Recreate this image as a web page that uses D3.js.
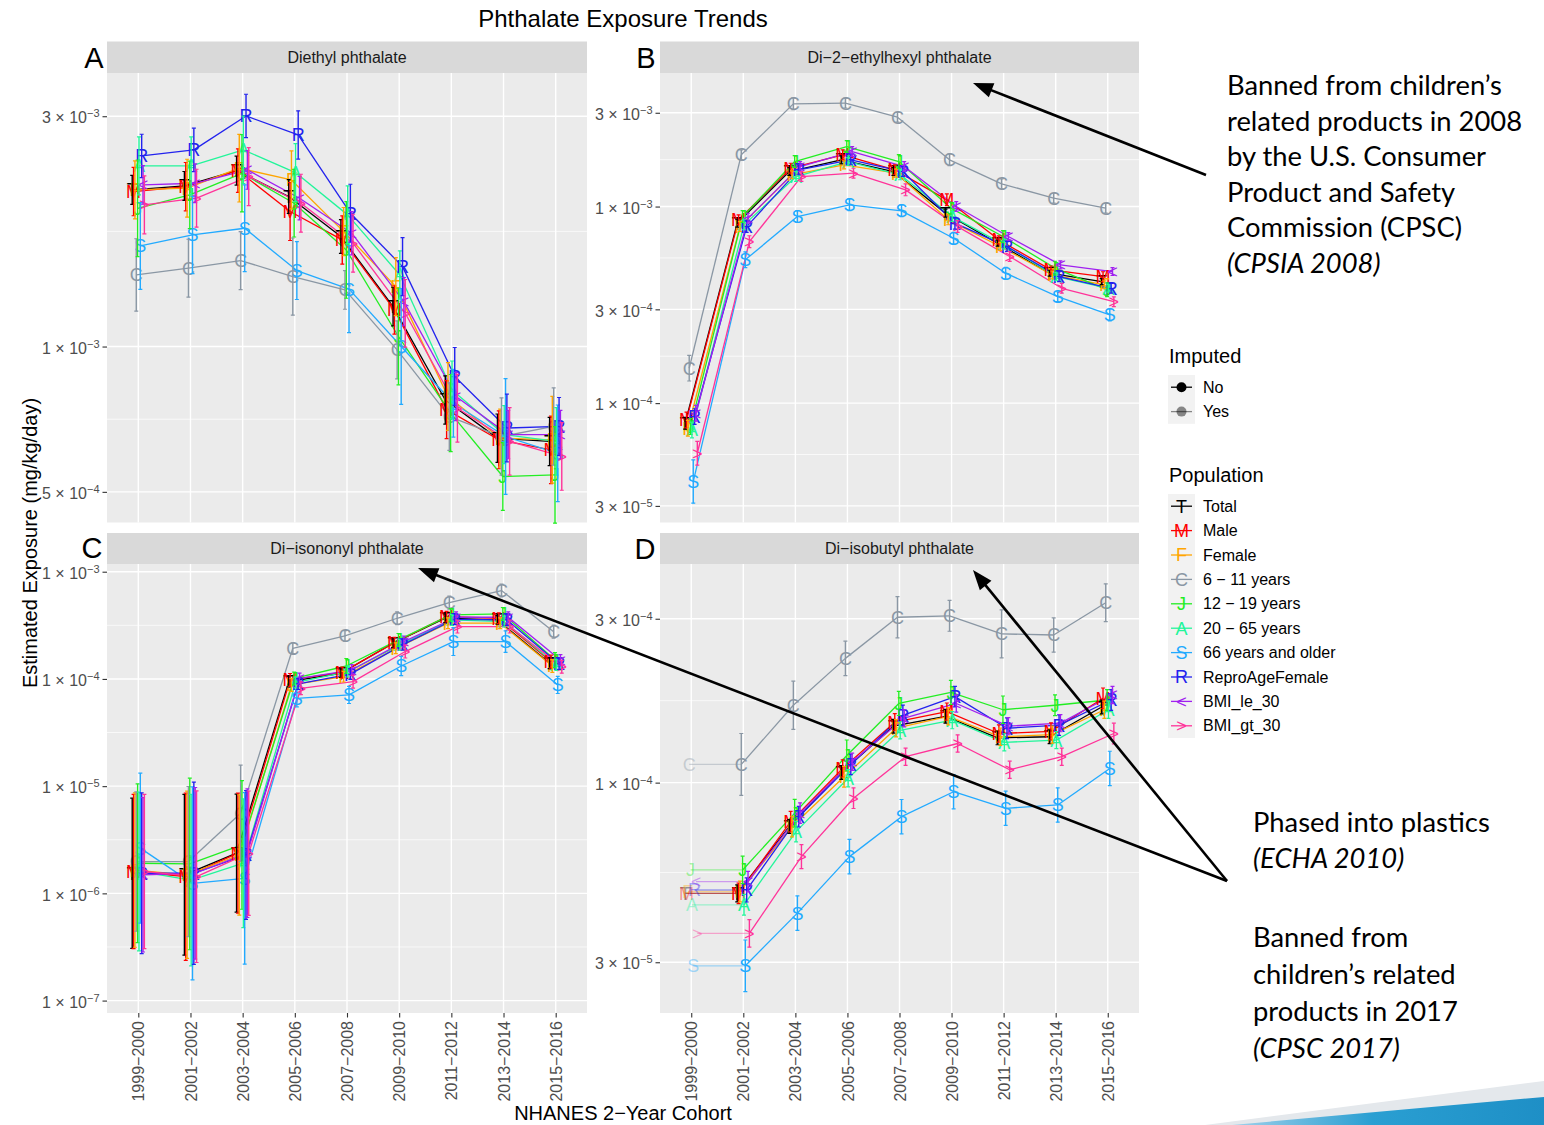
<!DOCTYPE html>
<html>
<head>
<meta charset="utf-8">
<script src="https://cdn.jsdelivr.net/npm/d3@7"></script>
<style>
  body { margin: 0; background: #fff; }
  svg { display: block; }
  text { font-family: "Liberation Sans", Arial, sans-serif; }
</style>
</head>
<body>
<svg id="chart" width="1544" height="1125"></svg>
<script>
// ---- data ----
const cohorts = ["1999-2000", "2001-2002", "2003-2004", "2005-2006", "2007-2008",
                 "2009-2010", "2011-2012", "2013-2014", "2015-2016"];

const popNames  = ["Total", "Male", "Female", "6 \u2212 11 years", "12 \u2212 19 years",
                   "20 \u2212 65 years", "66 years and older", "ReproAgeFemale", "BMI_le_30", "BMI_gt_30"];
const popShapes = ["T", "M", "F", "C", "J", "A", "S", "R", "<", ">"];
const popColors = ["#000000", "#ff0000", "#ffa500", "#8a97a4", "#22ee22",
                   "#22f59a", "#22aaff", "#2222ee", "#a020f0", "#ff3399"];

const panelTags   = ["A", "B", "C", "D"];
const panelTitles = ["Diethyl phthalate", "Di\u22122\u2212ethylhexyl phthalate",
                     "Di\u2212isononyl phthalate", "Di\u2212isobutyl phthalate"];

// rows follow popNames order
const diethylValues = [
  [2.111e-3, 2.151e-3, 2.315e-3, 2.045e-3, 1.690e-3, 1.210e-3, 7.75e-4, 6.46e-4, 6.36e-4],
  [2.094e-3, 2.144e-3, 2.315e-3, 1.904e-3, 1.663e-3, 1.191e-3, 7.40e-4, 6.41e-4, 6.11e-4],
  [2.111e-3, 2.128e-3, 2.341e-3, 2.214e-3, 1.730e-3, 1.331e-3, 7.88e-4, 6.46e-4, 6.41e-4],
  [1.407e-3, 1.453e-3, 1.507e-3, 1.396e-3, 1.310e-3, 9.84e-4, 7.16e-4, 6.51e-4, 6.83e-4],
  [1.934e-3, 2.061e-3, 2.285e-3, 1.981e-3, 1.585e-3, 1.049e-3, 7.28e-4, 5.38e-4, 5.42e-4],
  [2.367e-3, 2.367e-3, 2.555e-3, 2.293e-3, 1.874e-3, 1.407e-3, 8.13e-4, 6.57e-4, 6.36e-4],
  [1.616e-3, 1.703e-3, 1.758e-3, 1.437e-3, 1.315e-3, 1.000e-3, 7.63e-4, 6.51e-4, 6.01e-4],
  [2.482e-3, 2.555e-3, 3.004e-3, 2.744e-3, 1.889e-3, 1.464e-3, 8.67e-4, 6.78e-4, 6.83e-4],
  [2.162e-3, 2.179e-3, 2.322e-3, 2.029e-3, 1.717e-3, 1.239e-3, 7.88e-4, 6.57e-4, 6.57e-4],
  [1.965e-3, 2.029e-3, 2.249e-3, 1.981e-3, 1.637e-3, 1.172e-3, 7.45e-4, 6.36e-4, 5.92e-4]
];
const dehpValues = [
  [7.90e-5, 8.23e-4, 1.507e-3, 1.729e-3, 1.507e-3, 9.26e-4, 6.51e-4, 4.58e-4, 4.15e-4],
  [8.21e-5, 8.56e-4, 1.568e-3, 1.833e-3, 1.537e-3, 1.082e-3, 6.77e-4, 4.76e-4, 4.40e-4],
  [7.45e-5, 7.91e-4, 1.450e-3, 1.630e-3, 1.479e-3, 8.56e-4, 6.26e-4, 4.49e-4, 4.00e-4],
  [1.505e-4, 1.833e-3, 3.33e-3, 3.36e-3, 2.85e-3, 1.729e-3, 1.305e-3, 1.103e-3, 9.81e-4],
  [7.60e-5, 8.89e-4, 1.694e-3, 2.02e-3, 1.694e-3, 9.81e-4, 7.04e-4, 4.86e-4, 3.77e-4],
  [7.30e-5, 8.07e-4, 1.421e-3, 1.694e-3, 1.450e-3, 8.89e-4, 6.38e-4, 4.40e-4, 3.84e-4],
  [3.99e-5, 5.36e-4, 8.89e-4, 1.020e-3, 9.51e-4, 6.90e-4, 4.58e-4, 3.48e-4, 2.81e-4],
  [8.54e-5, 7.91e-4, 1.537e-3, 1.729e-3, 1.507e-3, 8.23e-4, 6.26e-4, 4.40e-4, 3.84e-4],
  [8.88e-5, 8.73e-4, 1.598e-3, 1.905e-3, 1.598e-3, 1.000e-3, 7.04e-4, 5.05e-4, 4.67e-4],
  [5.56e-5, 6.63e-4, 1.421e-3, 1.479e-3, 1.216e-3, 7.91e-4, 5.57e-4, 3.84e-4, 3.28e-4]
];
const dinpValues = [
  [1.54e-6, 1.49e-6, 2.37e-6, 9.44e-5, 1.13e-4, 2.15e-4, 3.68e-4, 3.55e-4, 1.40e-4],
  [1.60e-6, 1.43e-6, 2.37e-6, 9.79e-5, 1.15e-4, 2.18e-4, 3.81e-4, 3.68e-4, 1.45e-4],
  [1.65e-6, 1.49e-6, 2.28e-6, 8.79e-5, 1.05e-4, 1.93e-4, 3.31e-4, 3.31e-4, 1.32e-4],
  [1.98e-6, 1.98e-6, 5.58e-6, 1.93e-4, 2.52e-4, 3.68e-4, 5.15e-4, 6.67e-4, 2.76e-4],
  [1.91e-6, 1.88e-6, 2.83e-6, 1.01e-4, 1.32e-4, 2.31e-4, 3.95e-4, 4.04e-4, 1.50e-4],
  [1.60e-6, 1.33e-6, 1.91e-6, 9.24e-5, 1.17e-4, 2.08e-4, 3.55e-4, 3.43e-4, 1.35e-4],
  [2.64e-6, 1.24e-6, 1.38e-6, 6.60e-5, 7.09e-5, 1.32e-4, 2.23e-4, 2.23e-4, 8.79e-5],
  [1.54e-6, 1.54e-6, 2.28e-6, 8.98e-5, 1.11e-4, 2.08e-4, 3.60e-4, 3.55e-4, 1.38e-4],
  [1.49e-6, 1.54e-6, 2.37e-6, 1.01e-4, 1.21e-4, 2.23e-4, 3.76e-4, 3.76e-4, 1.50e-4],
  [1.60e-6, 1.43e-6, 2.37e-6, 8.18e-5, 9.44e-5, 1.80e-4, 3.08e-4, 3.08e-4, 1.30e-4]
];
const dibpValues = [
  [4.76e-5, 4.76e-5, 7.45e-5, 1.07e-4, 1.46e-4, 1.56e-4, 1.35e-4, 1.36e-4, 1.66e-4],
  [4.76e-5, 4.76e-5, 7.70e-5, 1.10e-4, 1.50e-4, 1.61e-4, 1.39e-4, 1.41e-4, 1.76e-4],
  [4.82e-5, 4.82e-5, 7.45e-5, 1.04e-4, 1.44e-4, 1.56e-4, 1.36e-4, 1.38e-4, 1.63e-4],
  [1.13e-4, 1.13e-4, 1.68e-4, 2.30e-4, 3.03e-4, 3.06e-4, 2.71e-4, 2.69e-4, 3.34e-4],
  [5.57e-5, 5.57e-5, 8.15e-5, 1.20e-4, 1.70e-4, 1.83e-4, 1.63e-4, 1.68e-4, 1.74e-4],
  [4.41e-5, 4.41e-5, 7.20e-5, 1.03e-4, 1.42e-4, 1.52e-4, 1.31e-4, 1.33e-4, 1.63e-4],
  [2.93e-5, 2.93e-5, 4.17e-5, 6.09e-5, 7.96e-5, 9.41e-5, 8.42e-5, 8.61e-5, 1.10e-4],
  [4.87e-5, 4.87e-5, 7.96e-5, 1.13e-4, 1.57e-4, 1.78e-4, 1.44e-4, 1.47e-4, 1.74e-4],
  [5.15e-5, 5.15e-5, 8.15e-5, 1.15e-4, 1.54e-4, 1.70e-4, 1.46e-4, 1.49e-4, 1.80e-4],
  [3.64e-5, 3.64e-5, 6.09e-5, 9.01e-5, 1.19e-4, 1.30e-4, 1.09e-4, 1.19e-4, 1.39e-4]
];

// error bar half-widths, log10 units
const diethylErr = [
  [0.03, 0.03, 0.03, 0.035, 0.035, 0.04, 0.05, 0.05, 0.05],
  [0.05, 0.05, 0.045, 0.06, 0.05, 0.05, 0.06, 0.06, 0.07],
  [0.06, 0.06, 0.07, 0.06, 0.05, 0.06, 0.07, 0.06, 0.09],
  [0.075, 0.06, 0.06, 0.08, 0.04, 0.06, 0.07, 0.08, 0.08],
  [0.10, 0.07, 0.08, 0.07, 0.10, 0.10, 0.08, 0.07, 0.10],
  [0.06, 0.06, 0.07, 0.06, 0.06, 0.05, 0.06, 0.06, 0.07],
  [0.09, 0.08, 0.09, 0.06, 0.09, 0.12, 0.07, 0.12, 0.10],
  [0.045, 0.045, 0.045, 0.05, 0.06, 0.06, 0.06, 0.07, 0.06],
  [0.04, 0.04, 0.04, 0.045, 0.045, 0.05, 0.05, 0.05, 0.05],
  [0.06, 0.06, 0.06, 0.06, 0.06, 0.07, 0.07, 0.07, 0.07]
];
const dehpErr = [
  [0.03, 0.02, 0.02, 0.02, 0.02, 0.02, 0.015, 0.015, 0.015],
  [0.04, 0.025, 0.025, 0.025, 0.025, 0.03, 0.02, 0.02, 0.025],
  [0.04, 0.025, 0.02, 0.02, 0.02, 0.025, 0.02, 0.02, 0.02],
  [0.065, 0.025, 0.03, 0.025, 0.025, 0.03, 0.025, 0.025, 0.025],
  [0.04, 0.03, 0.03, 0.03, 0.035, 0.03, 0.03, 0.035, 0.035],
  [0.04, 0.025, 0.025, 0.02, 0.025, 0.025, 0.02, 0.02, 0.02],
  [0.11, 0.04, 0.03, 0.03, 0.03, 0.03, 0.03, 0.025, 0.03],
  [0.04, 0.03, 0.025, 0.025, 0.025, 0.03, 0.025, 0.025, 0.025],
  [0.04, 0.025, 0.025, 0.025, 0.025, 0.025, 0.02, 0.02, 0.02],
  [0.06, 0.03, 0.025, 0.025, 0.03, 0.03, 0.025, 0.025, 0.025]
];
const dinpErr = [
  [0.70, 0.75, 0.55, 0.05, 0.04, 0.04, 0.04, 0.04, 0.05],
  [0.72, 0.78, 0.56, 0.06, 0.05, 0.05, 0.05, 0.05, 0.06],
  [0.72, 0.78, 0.56, 0.06, 0.05, 0.05, 0.05, 0.05, 0.06],
  [0.65, 0.70, 0.45, 0.05, 0.05, 0.06, 0.06, 0.06, 0.06],
  [0.74, 0.80, 0.60, 0.06, 0.07, 0.06, 0.06, 0.06, 0.07],
  [0.74, 0.80, 0.60, 0.05, 0.05, 0.05, 0.05, 0.05, 0.05],
  [0.70, 0.90, 0.80, 0.08, 0.08, 0.09, 0.13, 0.10, 0.08],
  [0.75, 0.85, 0.60, 0.05, 0.05, 0.05, 0.05, 0.05, 0.05],
  [0.72, 0.80, 0.60, 0.05, 0.05, 0.05, 0.05, 0.05, 0.05],
  [0.72, 0.80, 0.58, 0.06, 0.06, 0.06, 0.06, 0.06, 0.06]
];
const dibpErr = [
  [0, 0.025, 0.02, 0.02, 0.02, 0.02, 0.02, 0.02, 0.02],
  [0, 0.03, 0.03, 0.025, 0.025, 0.025, 0.025, 0.025, 0.03],
  [0, 0.03, 0.03, 0.03, 0.025, 0.025, 0.025, 0.025, 0.025],
  [0, 0.09, 0.07, 0.05, 0.06, 0.045, 0.07, 0.05, 0.055],
  [0, 0.04, 0.04, 0.045, 0.035, 0.035, 0.04, 0.03, 0.03],
  [0, 0.03, 0.03, 0.025, 0.025, 0.025, 0.025, 0.025, 0.025],
  [0, 0.075, 0.05, 0.05, 0.05, 0.05, 0.05, 0.05, 0.05],
  [0, 0.035, 0.03, 0.03, 0.03, 0.03, 0.03, 0.03, 0.03],
  [0, 0.03, 0.03, 0.025, 0.025, 0.025, 0.025, 0.025, 0.025],
  [0, 0.04, 0.035, 0.03, 0.025, 0.025, 0.025, 0.025, 0.03]
];

// imputed cohorts per panel (1 = Yes)
const diethylImputed = [0, 0, 0, 0, 0, 0, 0, 0, 0];
const dehpImputed    = [0, 0, 0, 0, 0, 0, 0, 0, 0];
const dinpImputed    = [0, 0, 0, 0, 0, 0, 0, 0, 0];
const dibpImputed    = [1, 0, 0, 0, 0, 0, 0, 0, 0];

// y axis breaks and limits
const diethylTicks = [5e-4, 1e-3, 3e-3];
const dehpTicks    = [3e-5, 1e-4, 3e-4, 1e-3, 3e-3];
const dinpTicks    = [1e-7, 1e-6, 1e-5, 1e-4, 1e-3];
const dibpTicks    = [3e-5, 1e-4, 3e-4];
const diethylDomain = [4.32e-4, 3.687e-3];
const dehpDomain    = [2.47e-5, 4.78e-3];
const dinpDomain    = [7.66e-8, 1.18e-3];
const dibpDomain    = [2.135e-5, 4.33e-4];

const annotation1 = ["Banned from children\u2019s", "related products in 2008", "by the U.S. Consumer",
                     "Product and Safety", "Commission (CPSC)", "(CPSIA 2008)"];
const annotation2 = ["Phased into plastics", "(ECHA 2010)"];
const annotation3 = ["Banned from", "children\u2019s related", "products in 2017", "(CPSC 2017)"];

// ---- drawing ----
const svg = d3.select("#chart");
const minus = s => s.replace(/-/g, "\u2212");

const panels = [
  { values: diethylValues, err: diethylErr, imputed: diethylImputed, ticks: diethylTicks, domain: diethylDomain,
    x0: 107, x1: 587, y0: 73, y1: 522.5, sy0: 41.5, tagX: 94, tagY: 68, bottom: false },
  { values: dehpValues, err: dehpErr, imputed: dehpImputed, ticks: dehpTicks, domain: dehpDomain,
    x0: 660, x1: 1139, y0: 73, y1: 522.5, sy0: 41.5, tagX: 646, tagY: 68, bottom: false },
  { values: dinpValues, err: dinpErr, imputed: dinpImputed, ticks: dinpTicks, domain: dinpDomain,
    x0: 107, x1: 587, y0: 564, y1: 1013, sy0: 533, tagX: 92, tagY: 558, bottom: true },
  { values: dibpValues, err: dibpErr, imputed: dibpImputed, ticks: dibpTicks, domain: dibpDomain,
    x0: 660, x1: 1139, y0: 564, y1: 1013, sy0: 533, tagX: 645, tagY: 559, bottom: true }
];

const IMP_ALPHA = 0.4;
const dodge = i => (i - (popNames.length - 1) / 2) * 1.35;

function tickLabel(sel, v) {
  const e = Math.floor(Math.log10(v) + 1e-9);
  const m = Math.round(v / Math.pow(10, e));
  sel.text(null);
  sel.append("tspan").text(m + " \u00d7 10");
  sel.append("tspan").attr("dy", -6).attr("font-size", 11).text("\u2212" + Math.abs(e));
}

function drawPanel(p, pi) {
  const g = svg.append("g");
  const x = d3.scalePoint().domain(cohorts).range([p.x0, p.x1]).padding(0.6);
  const y = d3.scaleLog().domain(p.domain).range([p.y1, p.y0]);

  g.append("rect")
    .attr("x", p.x0).attr("y", p.y0)
    .attr("width", p.x1 - p.x0).attr("height", p.y1 - p.y0)
    .attr("fill", "#ebebeb");

  const minors = d3.pairs(p.ticks).map(([a, b]) => Math.sqrt(a * b));
  g.selectAll(".minor").data(minors).join("line")
    .attr("x1", p.x0).attr("x2", p.x1)
    .attr("y1", d => y(d)).attr("y2", d => y(d))
    .attr("stroke", "#fff").attr("stroke-width", 0.7);
  g.selectAll(".major").data(p.ticks).join("line")
    .attr("x1", p.x0).attr("x2", p.x1)
    .attr("y1", d => y(d)).attr("y2", d => y(d))
    .attr("stroke", "#fff").attr("stroke-width", 1.4);
  g.selectAll(".vgrid").data(cohorts).join("line")
    .attr("x1", d => x(d)).attr("x2", d => x(d))
    .attr("y1", p.y0).attr("y2", p.y1)
    .attr("stroke", "#fff").attr("stroke-width", 1.4);

  // strip
  g.append("rect")
    .attr("x", p.x0).attr("y", p.sy0)
    .attr("width", p.x1 - p.x0).attr("height", p.y0 - p.sy0)
    .attr("fill", "#d9d9d9");
  g.append("text")
    .attr("x", (p.x0 + p.x1) / 2).attr("y", (p.sy0 + p.y0) / 2 + 5.5)
    .attr("text-anchor", "middle").attr("font-size", 16).attr("fill", "#1a1a1a")
    .text(panelTitles[pi]);
  svg.append("text")
    .attr("x", p.tagX).attr("y", p.tagY)
    .attr("text-anchor", "middle").attr("font-size", 29).attr("fill", "#000")
    .text(panelTags[pi]);

  // y axis
  const yAxis = g.append("g")
    .attr("transform", `translate(${p.x0},0)`)
    .call(d3.axisLeft(y).tickValues(p.ticks).tickSize(4.5).tickPadding(3));
  yAxis.select(".domain").remove();
  yAxis.selectAll(".tick line").attr("stroke", "#333").attr("stroke-width", 1.1);
  yAxis.selectAll(".tick text")
    .attr("font-size", 16).attr("fill", "#4d4d4d")
    .attr("dy", "0.42em")
    .each(function(d) { tickLabel(d3.select(this), d); });

  if (p.bottom) {
    const xAxis = g.append("g")
      .attr("transform", `translate(0,${p.y1})`)
      .call(d3.axisBottom(x).tickSize(4.5).tickFormat(minus));
    xAxis.select(".domain").remove();
    xAxis.selectAll(".tick line").attr("stroke", "#333").attr("stroke-width", 1.1);
    xAxis.selectAll(".tick text")
      .attr("font-size", 16).attr("fill", "#4d4d4d")
      .attr("transform", "rotate(-90)")
      .attr("x", -8).attr("y", 0).attr("dy", "0.35em")
      .attr("text-anchor", "end");
  }

  const series = p.values.map((vals, si) => vals.map((v, ci) => {
    const e = p.err[si][ci];
    return {
      si, ci,
      x: x(cohorts[ci]) + dodge(si),
      y: y(v),
      hi: y(v * Math.pow(10, e)),
      lo: y(v / Math.pow(10, e)),
      imp: p.imputed[ci] === 1
    };
  }));

  const lines = g.append("g");
  series.forEach(pts => {
    d3.pairs(pts).forEach(([a, b]) => {
      lines.append("line")
        .attr("x1", a.x).attr("y1", a.y).attr("x2", b.x).attr("y2", b.y)
        .attr("stroke", popColors[a.si]).attr("stroke-width", 1.3)
        .attr("stroke-opacity", a.imp ? IMP_ALPHA : 1);
    });
  });

  const shapes = g.append("g");
  series.forEach(pts => {
    shapes.selectAll(null).data(pts).join("text")
      .attr("x", d => d.x).attr("y", d => d.y)
      .attr("dy", "0.36em")
      .attr("text-anchor", "middle")
      .attr("font-size", 18)
      .attr("fill", d => popColors[d.si])
      .attr("fill-opacity", d => d.imp ? IMP_ALPHA : 1)
      .text(d => popShapes[d.si]);
  });

  const bars = g.append("g");
  series.forEach(pts => {
    const bp = pts.filter(d => !d.imp && d.lo - d.hi > 0.5);
    const col = popColors[pts[0].si];
    bars.selectAll(null).data(bp).join("line")
      .attr("x1", d => d.x).attr("x2", d => d.x)
      .attr("y1", d => d.hi).attr("y2", d => d.lo)
      .attr("stroke", col).attr("stroke-width", 1.4);
    bars.selectAll(null).data(bp).join("path")
      .attr("d", d => `M${d.x - 2},${d.hi}H${d.x + 2}M${d.x - 2},${d.lo}H${d.x + 2}`)
      .attr("stroke", col).attr("stroke-width", 1.2).attr("fill", "none");
  });
}

panels.forEach(drawPanel);

// titles
svg.append("text").attr("x", 623).attr("y", 27).attr("text-anchor", "middle")
  .attr("font-size", 24).text("Phthalate Exposure Trends");
svg.append("text").attr("x", 623).attr("y", 1120).attr("text-anchor", "middle")
  .attr("font-size", 20).text("NHANES 2\u2212Year Cohort");
svg.append("text").attr("transform", "translate(37,543) rotate(-90)").attr("text-anchor", "middle")
  .attr("font-size", 20).text("Estimated Exposure (mg/kg/day)");

// legend
const leg = svg.append("g");
const keyX = 1168, keyW = 27, keyH = 24.4;
leg.append("text").attr("x", 1169).attr("y", 363).attr("font-size", 20).text("Imputed");
leg.append("rect").attr("x", keyX).attr("y", 375).attr("width", keyW).attr("height", keyH * 2).attr("fill", "#f2f2f2");
["No", "Yes"].forEach((lab, i) => {
  const cy = 375 + keyH * (i + 0.5);
  const op = i === 0 ? 1 : 0.45;
  leg.append("line").attr("x1", keyX + 3).attr("x2", keyX + keyW - 3).attr("y1", cy).attr("y2", cy)
    .attr("stroke", "#000").attr("stroke-width", 1.3).attr("stroke-opacity", op);
  leg.append("circle").attr("cx", keyX + keyW / 2).attr("cy", cy).attr("r", 5).attr("fill", "#000").attr("fill-opacity", op);
  leg.append("text").attr("x", 1203).attr("y", cy + 5.5).attr("font-size", 16).text(lab);
});

leg.append("text").attr("x", 1169).attr("y", 482).attr("font-size", 20).text("Population");
const popTop = 494;
leg.append("rect").attr("x", keyX).attr("y", popTop).attr("width", keyW).attr("height", keyH * popNames.length).attr("fill", "#f2f2f2");
popNames.forEach((lab, i) => {
  const cy = popTop + keyH * (i + 0.5);
  leg.append("line").attr("x1", keyX + 3).attr("x2", keyX + keyW - 3).attr("y1", cy).attr("y2", cy)
    .attr("stroke", popColors[i]).attr("stroke-width", 1.3);
  leg.append("text").attr("x", keyX + keyW / 2).attr("y", cy).attr("dy", "0.36em")
    .attr("text-anchor", "middle").attr("font-size", 18).attr("fill", popColors[i]).text(popShapes[i]);
  leg.append("text").attr("x", 1203).attr("y", cy + 5.5).attr("font-size", 16).text(lab);
});

// annotations (slide text, Calibri-like)
function annotate(lines, x, y0, step) {
  const t = svg.append("text")
    .style("font-family", "Lato, 'Open Sans', sans-serif")
    .attr("font-size", 26).attr("fill", "#000");
  lines.forEach((l, i) => {
    t.append("tspan").attr("x", x).attr("y", y0 + i * step)
      .attr("font-style", l.startsWith("(") && i === lines.length - 1 ? "italic" : null)
      .text(l);
  });
  return t;
}
const a1 = annotate(annotation1, 1227, 95, 35.5);
const a2 = annotate(annotation2, 1253, 831.5, 36.5);
const a3 = annotate(annotation3, 1253, 946.5, 37.2);
const w0 = a1.select("tspan").node().getComputedTextLength();
const fs = 26 * 275 / w0;
[a1, a2, a3].forEach(t => t.attr("font-size", fs));

function arrow(x1, y1, x2, y2) {
  const ang = Math.atan2(y2 - y1, x2 - x1);
  const len = 20, half = 7.5;
  const bx = x2 - len * Math.cos(ang), by = y2 - len * Math.sin(ang);
  svg.append("line").attr("x1", x1).attr("y1", y1).attr("x2", bx + 2 * Math.cos(ang)).attr("y2", by + 2 * Math.sin(ang))
    .attr("stroke", "#000").attr("stroke-width", 2.6);
  const px = -Math.sin(ang) * half, py = Math.cos(ang) * half;
  svg.append("path")
    .attr("d", `M${x2},${y2}L${bx + px},${by + py}L${bx - px},${by - py}Z`)
    .attr("fill", "#000");
}
arrow(1206, 175, 973, 83);
arrow(1227, 881, 418, 568);
arrow(1227, 881, 973, 570);

// slide decoration, bottom right
const defs = svg.append("defs");
const grad = defs.append("linearGradient").attr("id", "swoosh").attr("x1", 0).attr("x2", 1);
grad.append("stop").attr("offset", 0).attr("stop-color", "#9fd0ea");
grad.append("stop").attr("offset", 0.45).attr("stop-color", "#2a9fd2");
grad.append("stop").attr("offset", 1).attr("stop-color", "#1e8fc6");
svg.append("path").attr("d", "M1205,1125L1544,1081L1544,1125Z").attr("fill", "#e4e8ec");
svg.append("path").attr("d", "M1232,1125L1544,1097L1544,1125Z").attr("fill", "url(#swoosh)");
</script>
</body>
</html>
